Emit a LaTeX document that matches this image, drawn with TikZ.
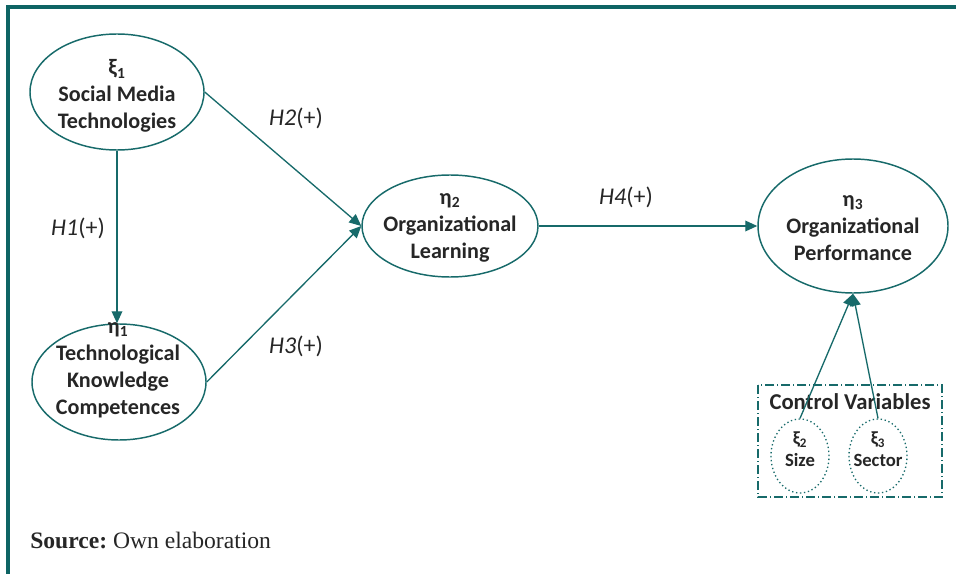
\documentclass[tikz,border=0pt]{standalone}
\usepackage{fontspec}
\setmainfont{Carlito}
\newfontfamily\srcfont{Liberation Serif}
\usetikzlibrary{shapes.geometric,arrows.meta}
\definecolor{teal1}{HTML}{176A6A}
\definecolor{frame1}{HTML}{0E6464}
\definecolor{ink}{HTML}{262626}
\tikzset{
  construct/.style={draw=teal1, line width=1.1pt, ellipse, inner sep=0pt},
  control/.style={draw=teal1, line width=1pt, ellipse, dotted, inner sep=0pt,
    minimum width=43.5pt, minimum height=55.5pt},
  ctext/.style={font=\bfseries\fontsize{16.6}{20.3}\selectfont, text=ink, align=center, inner sep=0pt},
  stext/.style={font=\bfseries\fontsize{14}{16.5}\selectfont, text=ink, align=center, inner sep=0pt},
  hyp/.style={font=\fontsize{18}{20}\selectfont, text=ink, inner sep=0pt},
  link/.style={draw=teal1, line width=1pt, -{Triangle[length=9pt,width=8pt]}},
}
\newcommand{\sub}[1]{\textsubscript{#1}}
\begin{document}
\begin{tikzpicture}[x=0.75pt,y=-0.75pt]
\useasboundingbox (0,0) rectangle (956,574);
% frame
\draw[frame1, line width=2.4pt] (8,574) -- (8,7) -- (956,7);

% constructs
\node[construct, minimum width=130.5pt, minimum height=87pt] (sm) at (117,92) {};
\node[construct, minimum width=130.5pt, minimum height=87pt] (tk) at (119,382) {};
\node[construct, minimum width=132pt, minimum height=76.5pt] (ol) at (450,226) {};
\node[construct, minimum width=142.5pt, minimum height=100.5pt] (op) at (853,226) {};

\node[ctext] (smt) at (117,96) {ξ\sub{1}\\Social Media\\Technologies};
\node[ctext] (tkt) at (118,370) {η\sub{1}\\Technological\\Knowledge\\Competences};
\node[ctext] (olt) at (450,228) {η\sub{2}\\Organizational\\Learning};
\node[ctext] (opt) at (853,228) {η\sub{3}\\Organizational\\Performance};

% control variables
\draw[teal1, line width=1pt, dash pattern=on 7pt off 2pt on 1pt off 2pt]
  (758,385) rectangle (942,497);
\node[font=\bfseries\fontsize{17}{19}\selectfont, text=ink, inner sep=0pt] (cvt) at (850,402) {Control Variables};
\node[control] (size) at (800,456) {};
\node[control] (sector) at (878,456) {};
\node[stext] (sizet) at (800,449) {ξ\sub{2}\\Size};
\node[stext] (sectort) at (878,449) {ξ\sub{3}\\Sector};

% paths
\draw[link] (sm.south) -- (sm.south |- tk.north);
\draw[link] (sm.east) -- (ol.west);
\draw[link] (tk.east) -- (ol.west);
\draw[link] (ol.east) -- (op.west);
\draw[link] (size.north) -- (op.south);
\draw[link] (sector.north) -- (op.south);

% hypothesis labels
\node[hyp] (h1) at (78,228) {\textit{H1}(+)};
\node[hyp] (h2) at (296,118) {\textit{H2}(+)};
\node[hyp] (h3) at (296,346) {\textit{H3}(+)};
\node[hyp] (h4) at (626,197) {\textit{H4}(+)};

% source note
\node[font=\srcfont\fontsize{17.7}{20}\selectfont, text=ink, anchor=west, inner sep=0pt] (src) at (30,540) {\textbf{Source:}~Own elaboration};
\end{tikzpicture}
\end{document}
